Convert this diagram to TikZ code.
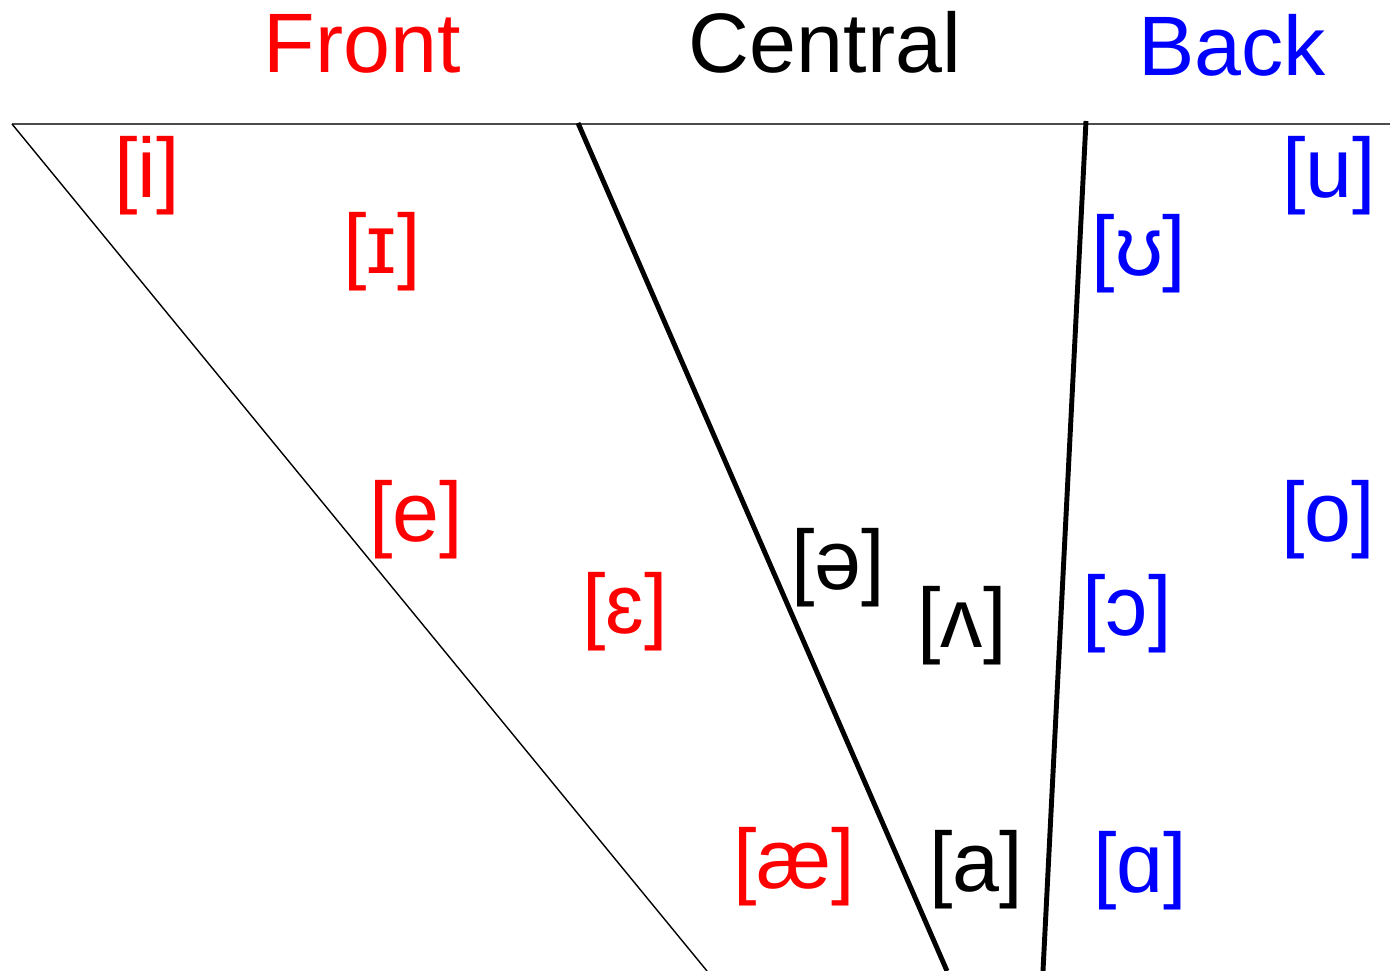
\documentclass[tikz,border=0pt]{standalone}
\usepackage{fontspec}
\setmainfont{Liberation Sans}
\usetikzlibrary{positioning}

\begin{document}
\begin{tikzpicture}[x=0.01cm, y=-0.01cm]
        \tikzstyle{head} = [inner sep=0pt, anchor=base, font=\fontsize{24}{28}\selectfont]
        \tikzstyle{vowel} = [inner sep=0pt, anchor=center, font=\fontsize{24}{28}\selectfont]
        \tikzstyle{front} = [vowel, text=red]
        \tikzstyle{central} = [vowel, text=black]
        \tikzstyle{back} = [vowel, text=blue]

        \useasboundingbox (0,0) rectangle (1390,971);

        % column headings
        \node [head, text=red] (fronthead) at (362,73) {Front};
        \node [head] (centralhead) at (825,73) {Central};
        \node [head, text=blue] (backhead) at (1232,76) {Back};

        % dividing lines
        \coordinate (topleft) at (12,124);
        \coordinate (topright) at (1390,124);
        \coordinate (frontend) at (707,971);
        \coordinate (midtop) at (578,123);
        \coordinate (midend) at (947,971);
        \coordinate (backtop) at (1086,121);
        \coordinate (backend) at (1043,971);

        \draw [black!70, line width=0.6pt] (topleft) -- (topright);
        \draw [black, line width=0.4pt] (topleft) -- (frontend);
        \draw [black, line width=1.4pt] (midtop) -- (midend);
        \draw [black, line width=1.4pt] (backtop) -- (backend);

        % front vowels
        \node [front] (vi) at (147,176) {[i]};
        \node [front] (vsmallcapi) at (382,252) {[ɪ]};
        \node [front] (ve) at (416,520) {[e]};
        \node [front] (vepsilon) at (625,612) {[ɛ]};
        \node [front] (vash) at (794,867) {[æ]};

        % central vowels
        \node [central] (vschwa) at (838,568) {[ə]};
        \node [central] (vwedge) at (962,626) {[ʌ]};
        \node [central] (va) at (976,870) {[a]};

        % back vowels
        \node [back] (vu) at (1329,176) {[u]};
        \node [back] (vupsilon) at (1139,254) {[ʊ]};
        \node [back] (vo) at (1328,520) {[o]};
        \node [back] (vopeno) at (1127,614) {[ɔ]};
        \node [back] (valpha) at (1140,871) {[ɑ]};

    \end{tikzpicture}
\end{document}
